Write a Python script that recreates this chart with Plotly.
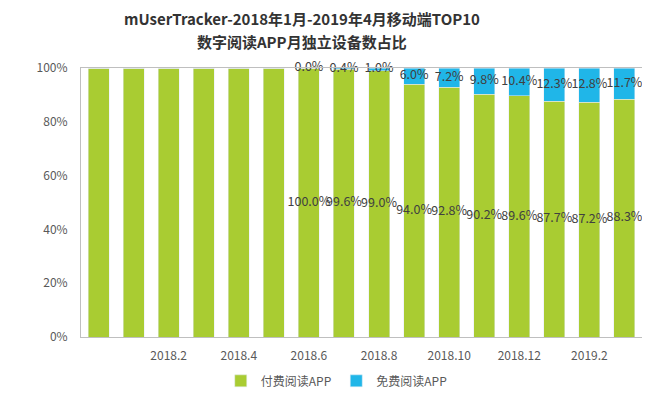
import plotly.graph_objects as go

months = ["2018.1", "2018.2", "2018.3", "2018.4", "2018.5", "2018.6", "2018.7", "2018.8",
          "2018.9", "2018.10", "2018.11", "2018.12", "2019.1", "2019.2", "2019.3", "2019.4"]
paid = [100.0, 100.0, 100.0, 100.0, 100.0, 100.0, 100.0, 99.6, 99.0, 94.0, 92.8, 90.2, 89.6, 87.7, 87.2, 88.3]
free = [0.0, 0.0, 0.0, 0.0, 0.0, 0.0, 0.0, 0.4, 1.0, 6.0, 7.2, 9.8, 10.4, 12.3, 12.8, 11.7]
labeled = [False] * 6 + [True] * 10
tick_pos = [2, 4, 6, 8, 10, 12, 14]
tick_text = ["2018.2", "2018.4", "2018.6", "2018.8", "2018.10", "2018.12", "2019.2"]
y_ticks = [0, 20, 40, 60, 80, 100]
title_lines = ["mUserTracker-2018年1月-2019年4月移动端TOP10", "数字阅读APP月独立设备数占比"]

GREEN = "#A9CC32"
BLUE = "#20B6E8"
FONT = "Noto Sans CJK SC"

x = list(range(len(months)))
fig = go.Figure()
fig.add_trace(go.Bar(x=x, y=paid, name="付费阅读APP", marker_color=GREEN, hoverinfo="skip"))
fig.add_trace(go.Bar(x=x, y=free, name="免费阅读APP", marker_color=BLUE, hoverinfo="skip"))

lx = [i for i in x if labeled[i]]
fig.add_trace(go.Scatter(
    x=lx, y=[paid[i] / 2 for i in lx], mode="text", cliponaxis=False,
    text=[f"{paid[i]:.1f}%" for i in lx], showlegend=False, hoverinfo="skip",
    textfont=dict(family=FONT, size=12.5, color="#404040")))
fig.add_trace(go.Scatter(
    x=lx, y=[paid[i] + free[i] / 2 for i in lx], mode="text", cliponaxis=False,
    text=[f"{free[i]:.1f}%" for i in lx], showlegend=False, hoverinfo="skip",
    textfont=dict(family=FONT, size=12.5, color="#404040")))

for k, line in enumerate(title_lines):
    fig.add_annotation(text=f"<b>{line}</b>", xref="paper", yref="paper",
                       x=0.394, y=1.184 - k * 0.086, xanchor="center", yanchor="middle",
                       showarrow=False, font=dict(family=FONT, size=15, color="#333333"))

fig.update_layout(
    width=642, height=390,
    barmode="stack", bargap=0.4,
    plot_bgcolor="white", paper_bgcolor="white",
    margin=dict(l=73, r=8, t=60, b=61, autoexpand=False),
    font=dict(family=FONT, color="#595959", size=12),
    xaxis=dict(range=[-0.5, 15.5], tickmode="array", tickvals=tick_pos, ticktext=tick_text,
               showline=True, linecolor="#BFBFBF", mirror=True, ticks="", showgrid=False,
               ticklabelstandoff=8, tickfont=dict(size=12, color="#595959")),
    yaxis=dict(range=[0, 100], tickmode="array", tickvals=y_ticks,
               ticktext=[f"{v}%" for v in y_ticks],
               showline=True, linecolor="#BFBFBF", mirror=True, showgrid=False, ticks="",
               ticklabelstandoff=10, tickfont=dict(size=12, color="#595959")),
    legend=dict(orientation="h", x=0.455, xanchor="center", y=-0.163, yanchor="middle",
                traceorder="normal", font=dict(size=12, color="#595959")),
)

fig.write_html("out.html")
